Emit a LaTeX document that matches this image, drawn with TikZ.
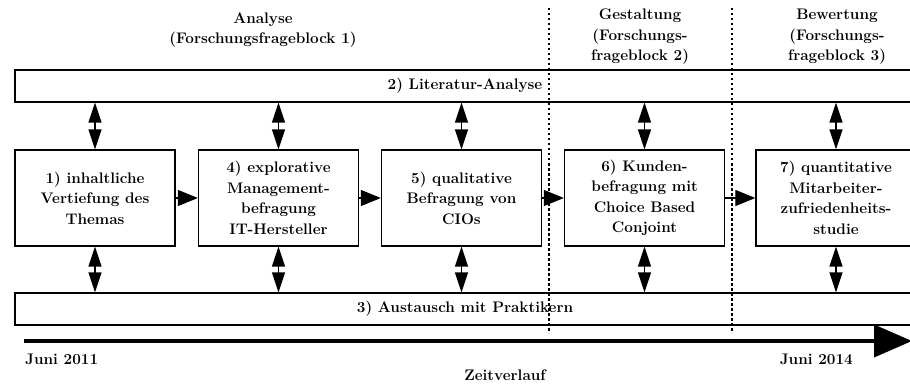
\documentclass[tikz,border=0pt]{standalone}
\usetikzlibrary{arrows.meta}
\begin{document}
\begin{tikzpicture}[x=1pt,y=-1pt,
  txt/.style={font=\fontsize{15.3}{20.5}\selectfont\bfseries, align=center, inner sep=0pt},
  band/.style={draw, line width=1.3pt, minimum width=900pt, minimum height=32pt, inner sep=0pt, txt},
  stepbox/.style={draw, line width=1.3pt, minimum width=160pt, minimum height=96pt, inner sep=0pt, txt, fill=white},
  sep/.style={line width=1.1pt, dash pattern=on 2.5pt off 2.5pt},
  vdbl/.style={line width=1.5pt, {Triangle[length=20pt,width=13pt]}-{Triangle[length=20pt,width=13pt]}},
  hflow/.style={line width=1.2pt, -{Triangle[length=20pt,width=16pt]}},
  time/.style={line width=4pt, -{Triangle[length=38pt,width=32pt]}}
]
\useasboundingbox (0,0) rectangle (910,385);
\clip (0,0) rectangle (910,385);

% phase separators
\coordinate (s1t) at (549,8);
\coordinate (s1b) at (549,333);
\coordinate (s2t) at (732,8);
\coordinate (s2b) at (732,333);
\draw[sep] (s1t) -- (s1b);
\draw[sep] (s2t) -- (s2b);

% headers
\node[txt] (h1) at (263,30) {Analyse\\(Forschungsfrageblock 1)};
\node[txt] (h2) at (640,37) {Gestaltung\\(Forschungs-\\frageblock 2)};
\node[txt] (h3) at (837,37) {Bewertung\\(Forschungs-\\frageblock 3)};

% bands
\node[band] (lit) at (465,86) {2) Literatur-Analyse};
\node[band] (aus) at (465,309) {3) Austausch mit Praktikern};

% steps
\node[stepbox] (b1) at (95,198) {1) inhaltliche\\Vertiefung des\\Themas};
\node[stepbox] (b4) at (278.5,198) {4) explorative\\Management-\\befragung\\IT-Hersteller};
\node[stepbox] (b5) at (461.5,198) {5) qualitative\\Befragung von\\CIOs};
\node[stepbox] (b6) at (644.5,198) {6) Kunden-\\befragung mit\\Choice Based\\Conjoint};
\node[stepbox] (b7) at (836,198) {7) quantitative\\Mitarbeiter-\\zufriedenheits-\\studie};

% flow
\draw[hflow] (b1) -- (b4);
\draw[hflow] (b4) -- (b5);
\draw[hflow] (b5) -- (b6);
\draw[hflow] (b6) -- (b7);

% exchange arrows
\foreach \b in {b1,b4,b5,b6,b7}{
  \draw[vdbl] (\b.north |- lit.south) -- (\b.north);
  \draw[vdbl] (\b.south) -- (\b.south |- aus.north);
}

% timeline
\coordinate (t0) at (24,341);
\coordinate (t1) at (912,341);
\draw[time] (t0) -- (t1);
\node[txt, anchor=west] (j1) at (25,359) {Juni 2011};
\node[txt, anchor=east] (j2) at (853,359) {Juni 2014};
\node[txt] (zv) at (505,375) {Zeitverlauf};
\end{tikzpicture}
\end{document}
